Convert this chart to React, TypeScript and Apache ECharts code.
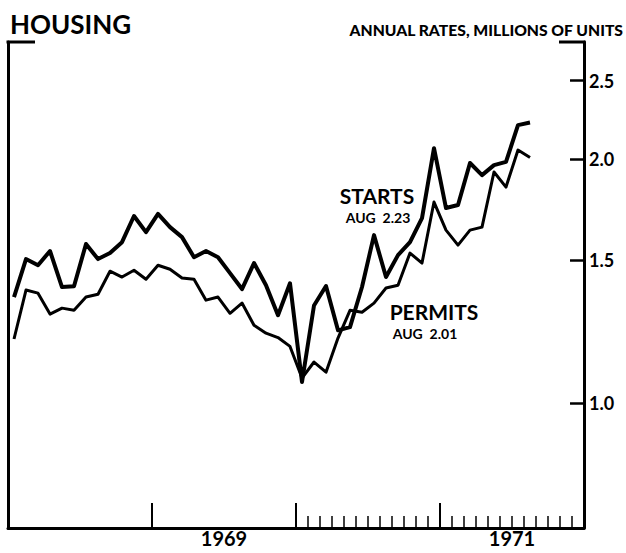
import React, { useEffect, useRef } from "react";
import * as echarts from "echarts";

// Monthly data, Jan 1968 .. Aug 1971 (annual rates, millions of units)
const startsValues = [
  1.352, 1.506, 1.48, 1.541, 1.391, 1.394, 1.572, 1.506, 1.532, 1.58, 1.702, 1.626,
  1.712, 1.649, 1.603, 1.514, 1.541, 1.514, 1.447, 1.383, 1.489, 1.398, 1.284, 1.406,
  1.062, 1.32, 1.395, 1.23, 1.241, 1.391, 1.612, 1.431, 1.523, 1.58, 1.692, 2.064,
  1.741, 1.756, 1.979, 1.912, 1.967, 1.985, 2.204, 2.22,
];
const permitsValues = [
  1.2, 1.379, 1.367, 1.288, 1.31, 1.302, 1.352, 1.363, 1.455, 1.431, 1.459, 1.422,
  1.48, 1.463, 1.427, 1.422, 1.34, 1.352, 1.291, 1.329, 1.248, 1.22, 1.205, 1.175,
  1.074, 1.124, 1.092, 1.203, 1.302, 1.295, 1.329, 1.387, 1.398, 1.532, 1.489, 1.771,
  1.635, 1.567, 1.635, 1.649, 1.929, 1.848, 2.053, 2.01,
];
const firstYear = 1968;
const yearLabels = ["1969", "1971"];
const yTickValues = [1.0, 1.5, 2.0, 2.5];
const yMinValue = 0.7013;
const yMaxValue = 2.791;

const toLog = (v: number) => Math.log10(v);
const toPoints = (vals: number[]) => vals.map((v, i) => [i + 0.5, toLog(v)]);

const monthsShown = 48;
const majorTicks = [12, 24, 36];
const minorTicks: number[] = [];
for (let m = 25; m < monthsShown; m++) if (m % 12 !== 0) minorTicks.push(m);
const labelPositions = yearLabels.map((y) => (Number(y) - firstYear) * 12 + 6);

export default function App() {
  const ref = useRef<HTMLDivElement>(null);
  useEffect(() => {
    if (!ref.current) return;
    const chart = echarts.init(ref.current, null, { renderer: "svg" });
    const font = "Lato, 'Liberation Sans', sans-serif";
    const logTicks = yTickValues.map(toLog);
    const tickSpan = 14 / 12.02; // tick length expressed in months
    const textEl = (text: string, x: number, y: number, size: number, align: string, weight: any = "bold") => ({
      type: "text",
      x,
      y,
      style: {
        text,
        fontFamily: font,
        fontWeight: weight,
        fontSize: size,
        fill: "#000",
        align,
        verticalAlign: "middle",
      },
    });
    const yRange = { min: toLog(yMinValue), max: toLog(yMaxValue) };
    chart.setOption({
      animation: false,
      grid: { left: 8, right: 42, top: 42, bottom: 25 },
      xAxis: [
        {
          type: "value",
          min: 0,
          max: monthsShown,
          position: "bottom",
          axisLine: { show: true, onZero: false, lineStyle: { color: "#000", width: 3 } },
          axisTick: {
            show: true,
            inside: true,
            length: 25,
            customValues: majorTicks,
            lineStyle: { color: "#000", width: 2 },
          },
          axisLabel: {
            show: true,
            customValues: labelPositions,
            formatter: (v: number) => String(firstYear + Math.floor(v / 12)),
            color: "#000",
            fontFamily: font,
            fontWeight: "bold",
            fontSize: 20,
            lineHeight: 20,
            margin: 0,
          },
          splitLine: { show: false },
        },
        {
          type: "value",
          min: 0,
          max: monthsShown,
          position: "bottom",
          axisLine: { show: false, onZero: false },
          axisTick: {
            show: true,
            inside: true,
            length: 12,
            customValues: minorTicks,
            lineStyle: { color: "#000", width: 1.5 },
          },
          axisLabel: { show: false },
          splitLine: { show: false },
        },
      ],
      yAxis: [
        {
          type: "value",
          position: "right",
          ...yRange,
          axisLine: { show: true, onZero: false, lineStyle: { color: "#000", width: 3 } },
          axisTick: { show: false },
          axisLabel: {
            show: true,
            customValues: logTicks,
            formatter: (v: number) => Math.pow(10, v).toFixed(1),
            color: "#000",
            fontFamily: font,
            fontWeight: "bold",
            fontSize: 18,
            margin: 5,
          },
          splitLine: { show: false },
        },
        {
          type: "value",
          position: "left",
          ...yRange,
          axisLine: { show: true, onZero: false, lineStyle: { color: "#000", width: 3 } },
          axisTick: { show: false },
          axisLabel: { show: false },
          splitLine: { show: false },
        },
      ],
      series: [
        {
          name: "STARTS",
          type: "line",
          data: toPoints(startsValues),
          showSymbol: false,
          symbol: "none",
          lineStyle: { color: "#000", width: 4, join: "round" },
          xAxisIndex: 0,
          yAxisIndex: 0,
          z: 3,
          markLine: {
            silent: true,
            symbol: ["none", "none"],
            label: { show: false },
            lineStyle: { color: "#000", width: 2.5, type: "solid" },
            data: logTicks.map((v) => [
              { coord: [monthsShown - tickSpan, v] },
              { coord: [monthsShown, v] },
            ]),
          },
        },
        {
          name: "PERMITS",
          type: "line",
          data: toPoints(permitsValues),
          showSymbol: false,
          symbol: "none",
          lineStyle: { color: "#000", width: 3, join: "round" },
          xAxisIndex: 0,
          yAxisIndex: 0,
          z: 2,
        },
      ],
      graphic: [
        textEl("HOUSING", 10, 24, 26, "left"),
        textEl("ANNUAL RATES, MILLIONS OF UNITS", 623, 30, 15.7, "right", 900),
        {
          type: "line",
          shape: { x1: 6.5, y1: 42, x2: 35, y2: 42 },
          style: { stroke: "#000", lineWidth: 3 },
        },
        {
          type: "line",
          shape: { x1: 559, y1: 42, x2: 585.5, y2: 42 },
          style: { stroke: "#000", lineWidth: 3 },
        },
        textEl("STARTS", 377, 195, 21, "center"),
        textEl("AUG  2.23", 378, 217, 14, "center"),
        textEl("PERMITS", 434, 311, 21, "center"),
        textEl("AUG  2.01", 425, 333, 14, "center"),
      ],
    });
    return () => chart.dispose();
  }, []);
  return <div ref={ref} style={{ width: 626, height: 553, position: "absolute", left: 0, top: 0, background: "#fff" }} />;
}
